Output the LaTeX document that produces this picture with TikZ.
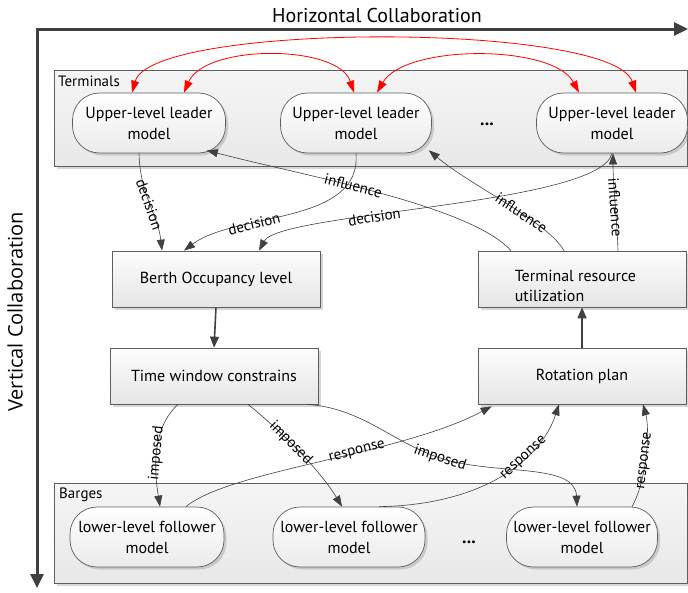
\documentclass[tikz,border=0pt]{standalone}
\usepackage{fontspec}
\setmainfont{PT Sans}
\newfontfamily\axisfont{Open Sans}
\usetikzlibrary{arrows.meta,calc,shadows}

\definecolor{ink}{HTML}{404040}
\definecolor{edge}{HTML}{5E5E5E}
\definecolor{linkred}{HTML}{FF0000}

\begin{document}
\begin{tikzpicture}[x=1pt,y=-1pt,
  shade/.style={drop shadow={shadow xshift=2.5pt,shadow yshift=-2.5pt,opacity=0.35,fill=black!45}},
  group/.style={draw=edge, line width=0.7pt, top color=white!96!black, bottom color=white!91!black, shade},
  model/.style={draw=edge, line width=0.7pt, rounded corners=27pt, top color=white, bottom color=white!92!black,
    shade, minimum height=60pt, align=center, font=\fontsize{16}{21}\selectfont, inner sep=0pt},
  stage/.style={draw=edge, line width=0.7pt, top color=white!99!black, bottom color=white!90!black,
    shade, minimum width=208pt, minimum height=56pt, align=center, font=\fontsize{16}{20}\selectfont, inner sep=0pt},
  link/.style={draw=ink, line width=0.6pt, -{Triangle[length=11pt,width=8pt]}},
  bold link/.style={draw=ink, line width=1.6pt, -{Triangle[length=11pt,width=9pt]}},
  peer/.style={draw=linkred, line width=0.8pt, {Triangle[length=12pt,width=8pt]}-{Triangle[length=12pt,width=8pt]}},
  tag/.style={font=\fontsize{15}{15}\selectfont, sloped, inner sep=0.5pt, text=black},
  grouptitle/.style={font=\fontsize{15}{15}\selectfont, anchor=west, inner sep=0pt},
  dots/.style={font=\fontsize{18}{18}\selectfont\bfseries, inner sep=0pt}
]
\useasboundingbox (0,0) rectangle (688,592);

% collaboration axes
\coordinate (origin) at (37,29);
\coordinate (hend) at (688,29);
\coordinate (vend) at (37,588);
\draw[ink, line width=3pt, line join=miter,
  {Triangle[length=14pt,width=13pt]}-{Triangle[length=14pt,width=13pt]}] (hend) -- (origin) -- (vend);
\node[font=\fontsize{20}{20}\selectfont, inner sep=0pt] (htitle) at (377,15) {Horizontal Collaboration};
\node[font=\axisfont\fontsize{20}{20}\selectfont, rotate=90, inner sep=0pt] (vtitle) at (15,312) {Vertical Collaboration};

% terminal layer
\node[group, minimum width=633pt, minimum height=96pt, anchor=north west] (terminals) at (54,70) {};
\node[grouptitle] (ttitle) at ($(terminals.north west)+(4,11)$) {Terminals};
\node[model, minimum width=153pt] (T1) at (149,123) {Upper-level leader\\model};
\node[model, minimum width=151pt] (T2) at (356,123) {Upper-level leader\\model};
\node[model, minimum width=151pt] (T3) at (612,123) {Upper-level leader\\model};
\node[dots] (tdots) at (487,124) {...};

% barge layer
\node[group, minimum width=633pt, minimum height=100pt, anchor=north west] (barges) at (54,483) {};
\node[grouptitle] (btitle) at ($(barges.north west)+(5,12)$) {Barges};
\node[model, minimum width=154pt] (B1) at (147,537) {lower-level follower\\model};
\node[model, minimum width=152pt] (B2) at (349,537) {lower-level follower\\model};
\node[model, minimum width=151pt] (B3) at (582,537) {lower-level follower\\model};
\node[dots] (bdots) at (469,542) {...};

% intermediate stages
\node[stage] (berth) at (216,279) {Berth Occupancy level};
\node[stage] (tru) at (582,279) {};
\node[font=\fontsize{16}{20}\selectfont, align=left, anchor=north west, inner sep=0pt] (trutext)
  at ($(tru.north west)+(37,19)$) {Terminal resource\\utilization};
\node[stage] (window) at (214,376) {Time window constrains};
\node[stage] (rotation) at (582,376) {Rotation plan};

% horizontal links between terminals
\draw[peer] ($(T1.north)+(-17,0)$) .. controls (152,22) and (612,22) .. ($(T3.north)+(24,0)$);
\draw[peer] ($(T1.north)+(35,0)$) .. controls (205,44) and (338,44) .. ($(T2.north)+(-2,0)$);
\draw[peer] ($(T2.north)+(21,0)$) .. controls (405,44) and (553,44) .. ($(T3.north)+(-33,0)$);

% decisions of the leaders
\draw[link] ($(T1.south)+(-10,0)$) .. controls (140,195) and (158,215) .. node[tag, pos=0.5] {decision} ($(berth.north)+(-54,0)$);
\draw[link] (T2.south) .. controls (362,225) and (235,212) .. node[tag, pos=0.66] {decision} ($(berth.north)+(-32,0)$);
\draw[link] ($(T3.south)+(0,0)$) .. controls (600,205) and (280,212) .. node[tag, pos=0.63] {decision} ($(berth.north)+(43,0)$);

% influence of resource utilization
\draw[link] ($(tru.north)+(-71,0)$) .. controls (470,205) and (300,175) .. node[tag, pos=0.57] {influence} ($(T1.south east)+(-19,-3)$);
\draw[link] ($(tru.north)+(-18,0)$) .. controls (548,222) and (470,185) .. node[tag, pos=0.4] {influence} ($(T2.south east)+(-3,-3)$);
\draw[link] ($(tru.north)+(36,0)$) .. controls (617,220) and (613,185) .. node[tag, pos=0.45] {influence} ($(T3.south)+(1,0)$);

% vertical flow between the stages
\draw[bold link] (berth.south) -- (window.north);
\draw[bold link] (rotation.north) -- (tru.south);

% constraints imposed on the barges
\draw[link] ($(window.south)+(-36,0)$) .. controls (150,430) and (155,475) .. node[tag, pos=0.5] {imposed} ($(B1.north)+(13,0)$);
\draw[link] ($(window.south)+(34,0)$) .. controls (280,430) and (320,470) .. node[tag, pos=0.42] {imposed} ($(B2.north)+(-7,0)$);
\coordinate (bend) at (440,458);
\draw[link] ($(window.south)+(93,0)$) .. controls (362,408) and (392,442) .. (bend) node[tag, pos=1] {imposed}
  .. controls (495,476) and (575,462) .. ($(B3.north)+(-5,0)$);

% responses of the barges
\draw[link] ($(B1.north)+(39,0)$) .. controls (230,470) and (400,455) .. node[tag, pos=0.6] {response} ($(rotation.south west)+(14,2)$);
\draw[link] ($(B2.north)+(30,0)$) .. controls (480,505) and (540,462) .. node[tag, pos=0.65] {response} ($(rotation.south)+(-23,0)$);
\draw[link] ($(B3.north)+(50,0)$) .. controls (647,480) and (650,430) .. node[tag, pos=0.45] {response} ($(rotation.south)+(61,0)$);
\end{tikzpicture}
\end{document}
